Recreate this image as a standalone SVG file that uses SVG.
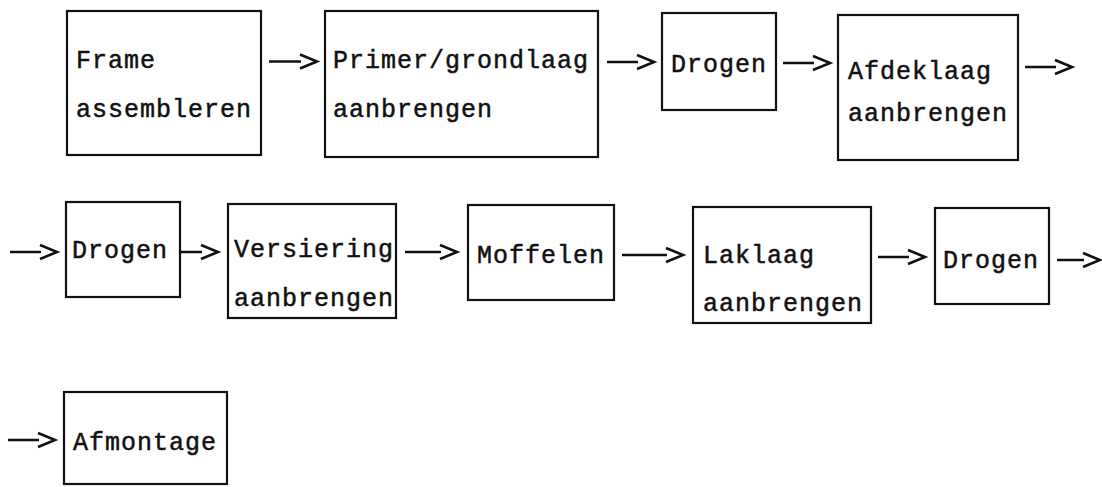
<svg xmlns="http://www.w3.org/2000/svg" width="1102" height="487" viewBox="0 0 1102 487">
  <style>
    .box { fill: #fff; stroke: #111; stroke-width: 2.2; }
    .lbl { font-family: "Liberation Mono", "DejaVu Sans Mono", monospace; font-size: 25px; letter-spacing: 1px; fill: #111; stroke: #111; stroke-width: 0.5; }
    .arr { fill: none; stroke: #111; stroke-width: 2.6; stroke-linejoin: miter; }
  </style>
  <rect width="1102" height="487" fill="#fff"/>

  <!-- process steps -->
  <g id="frame-assembleren">
    <rect class="box" x="67" y="11" width="194" height="144"/>
    <text class="lbl" x="76" y="68">Frame</text>
    <text class="lbl" x="76" y="117">assembleren</text>
  </g>
  <g id="primer-aanbrengen">
    <rect class="box" x="325" y="11" width="273" height="146"/>
    <text class="lbl" x="333" y="68">Primer/grondlaag</text>
    <text class="lbl" x="333" y="117">aanbrengen</text>
  </g>
  <g id="drogen-1">
    <rect class="box" x="662" y="13" width="114" height="97"/>
    <text class="lbl" x="671" y="72">Drogen</text>
  </g>
  <g id="afdeklaag-aanbrengen">
    <rect class="box" x="838" y="15" width="180" height="145"/>
    <text class="lbl" x="848" y="79">Afdeklaag</text>
    <text class="lbl" x="848" y="121">aanbrengen</text>
  </g>
  <g id="drogen-2">
    <rect class="box" x="66" y="202" width="114" height="95"/>
    <text class="lbl" x="72" y="258">Drogen</text>
  </g>
  <g id="versiering-aanbrengen">
    <rect class="box" x="228" y="204" width="168" height="114"/>
    <text class="lbl" x="234" y="257">Versiering</text>
    <text class="lbl" x="234" y="306">aanbrengen</text>
  </g>
  <g id="moffelen">
    <rect class="box" x="468" y="205" width="146" height="95"/>
    <text class="lbl" x="477" y="263">Moffelen</text>
  </g>
  <g id="laklaag-aanbrengen">
    <rect class="box" x="693" y="207" width="178" height="116"/>
    <text class="lbl" x="703" y="263">Laklaag</text>
    <text class="lbl" x="703" y="311">aanbrengen</text>
  </g>
  <g id="drogen-3">
    <rect class="box" x="935" y="208" width="114" height="96"/>
    <text class="lbl" x="943" y="268">Drogen</text>
  </g>
  <g id="afmontage">
    <rect class="box" x="64" y="392" width="163" height="92"/>
    <text class="lbl" x="73" y="450">Afmontage</text>
  </g>

  <!-- connectors: a short line followed by an open chevron -->
  <g id="connectors">
    <path class="arr" d="M269 61.5H301M300 54.5L317 61.5L300 68.5"/>
    <path class="arr" d="M607 62H638M637 55L654 62L637 69"/>
    <path class="arr" d="M783 63H814M813 56L830 63L813 70"/>
    <path class="arr" d="M1025 67H1056M1055 60L1072 67L1055 74"/>
    <path class="arr" d="M10 252H41M40 245L57 252L40 259"/>
    <path class="arr" d="M180 252H202M201 245L218 252L201 259"/>
    <path class="arr" d="M405 252H441M440 245L457 252L440 259"/>
    <path class="arr" d="M622 255H667M666 248L683 255L666 262"/>
    <path class="arr" d="M878 257H909M908 250L925 257L908 264"/>
    <path class="arr" d="M1057 260H1084M1083 253L1100 260L1083 267"/>
    <path class="arr" d="M8 440H39M38 433L55 440L38 447"/>
  </g>
</svg>
